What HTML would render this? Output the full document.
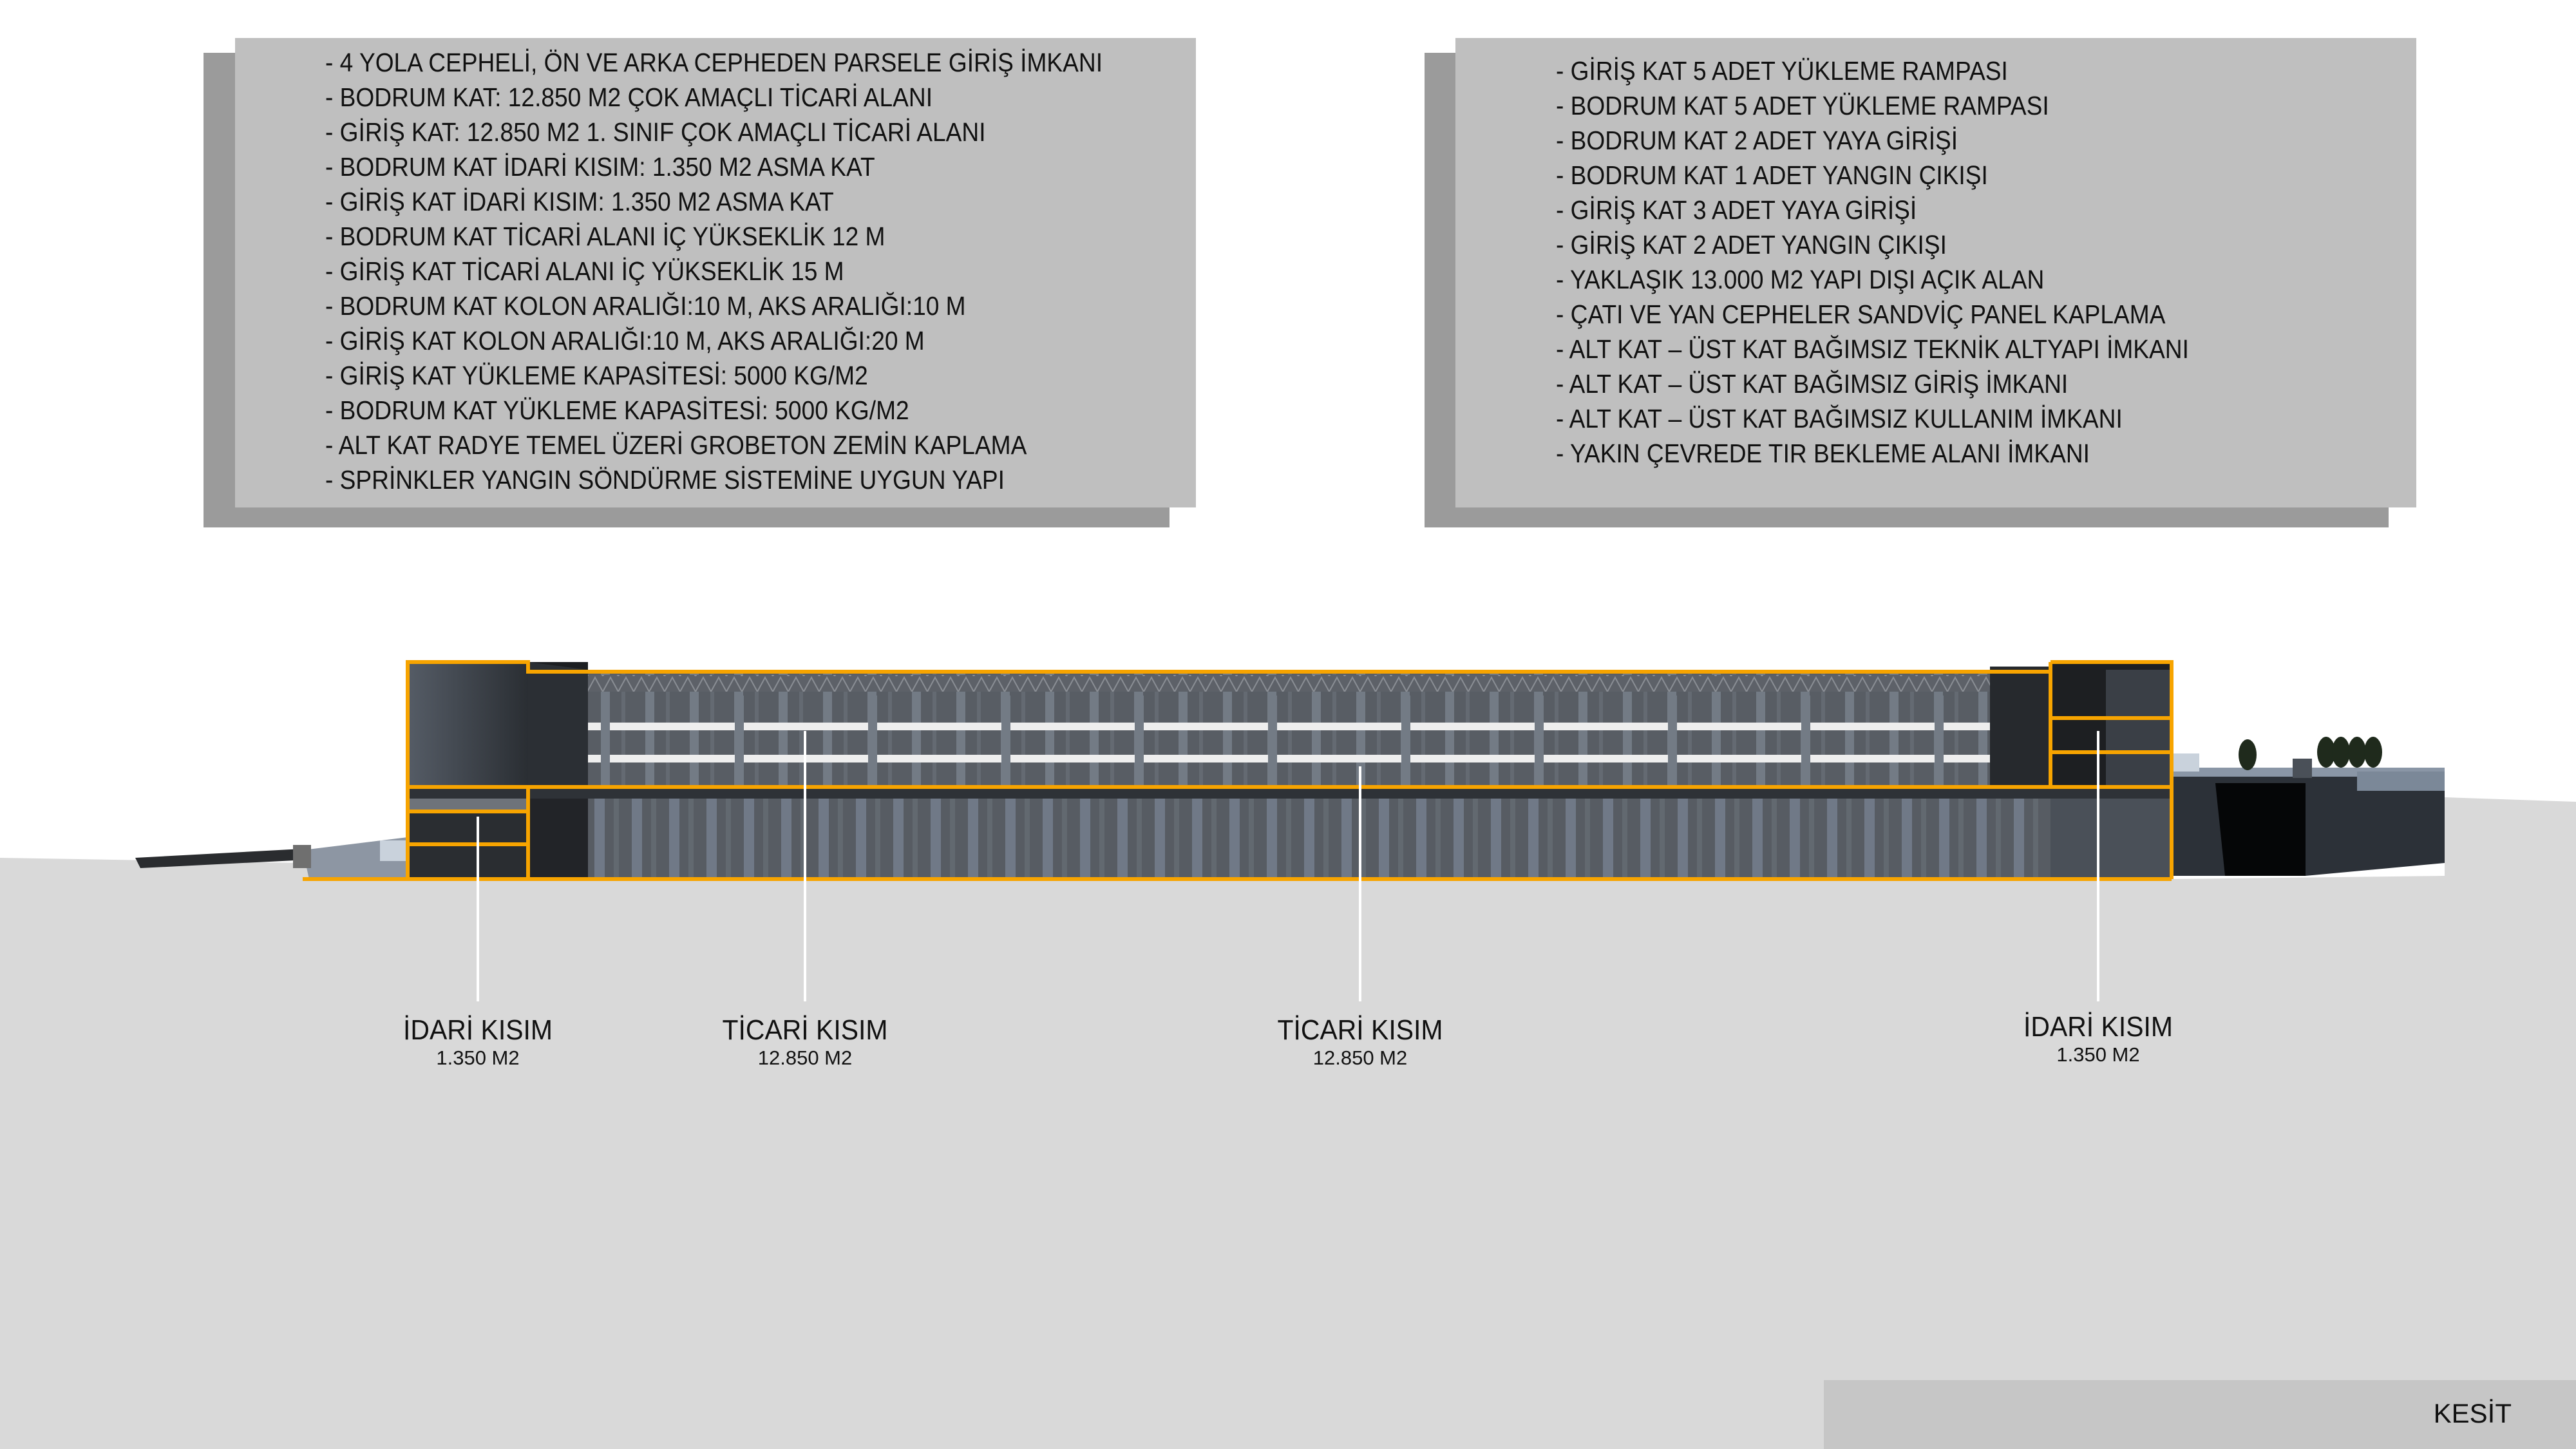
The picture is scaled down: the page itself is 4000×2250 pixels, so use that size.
<!DOCTYPE html>
<html><head><meta charset="utf-8"><style>
html,body{margin:0;padding:0}
body{width:4000px;height:2250px;position:relative;overflow:hidden;background:#d9d9d9;font-family:"Liberation Sans",sans-serif}
.sh{position:absolute;background:#9b9b9b}
.bx{position:absolute;background:#bfbfbf}
.tx{position:absolute;transform:scaleX(0.905);transform-origin:0 0;font-size:41px;line-height:54px;color:#111;white-space:nowrap}
.lb{position:absolute;text-align:center;color:#111;white-space:nowrap}
.lb .a{font-size:44px;line-height:50px;transform:scaleX(0.93);display:block}
.lb .b{font-size:31px;line-height:36px;transform:scaleX(1.0);display:block}
</style></head><body>
<svg width="4000" height="2250" style="position:absolute;left:0;top:0">
<defs>
<pattern id="colU" x="913" y="0" width="69" height="10" patternUnits="userSpaceOnUse"><rect width="69" height="10" fill="#585d64"/><rect x="20" width="14" height="10" fill="#737b85"/><rect x="52" width="6" height="10" fill="#646a72"/></pattern>
<pattern id="colL" x="913" y="0" width="58" height="10" patternUnits="userSpaceOnUse"><rect width="58" height="10" fill="#575c63"/><rect x="10" width="16" height="10" fill="#707987"/><rect x="40" width="8" height="10" fill="#626970"/></pattern>
<pattern id="trs" x="0" y="1050" width="24" height="24" patternUnits="userSpaceOnUse"><rect width="24" height="24" fill="#5d6168"/><path d="M0 24 L12 2 L24 24" stroke="#8a8e94" stroke-width="2" fill="none"/></pattern>
<linearGradient id="twr" x1="0" x2="1"><stop offset="0" stop-color="#555c66"/><stop offset="1" stop-color="#2a2e33"/></linearGradient>
</defs>
<polygon points="0,0 4000,0 4000,1245 3796,1238 3796,1360 3372,1365 633,1365 470,1340 0,1332" fill="#ffffff"/>
<polygon points="210,1332 470,1318 478,1335 218,1348" fill="#2a2c2f"/>
<polygon points="470,1320 633,1300 633,1365 480,1365" fill="#8d96a3"/>
<rect x="455" y="1312" width="28" height="36" fill="#6f6f6f"/>
<rect x="590" y="1305" width="43" height="32" fill="#c9d2dc"/>
<rect x="633" y="1043" width="2739" height="179" fill="url(#colU)"/>
<rect x="633" y="1048" width="2739" height="26" fill="url(#trs)"/>
<g fill="#eeeeee">
<rect x="913" y="1122" width="2177" height="12"/>
<rect x="913" y="1172" width="2177" height="12"/>
</g>
<g fill="#737b85">
<rect x="933" y="1080" width="14" height="142"/><rect x="1141" y="1080" width="14" height="142"/><rect x="1348" y="1080" width="14" height="142"/><rect x="1555" y="1080" width="14" height="142"/><rect x="1762" y="1080" width="14" height="142"/><rect x="1969" y="1080" width="14" height="142"/><rect x="2176" y="1080" width="14" height="142"/><rect x="2383" y="1080" width="14" height="142"/><rect x="2590" y="1080" width="14" height="142"/><rect x="2797" y="1080" width="14" height="142"/><rect x="3004" y="1080" width="14" height="142"/>
</g>
<rect x="633" y="1028" width="187" height="194" fill="url(#twr)"/>
<rect x="820" y="1028" width="93" height="194" fill="#1c1e21"/>
<polygon points="820,1028 913,1040 913,1222 820,1222" fill="#2b2f34"/>
<rect x="3090" y="1035" width="94" height="187" fill="#26292d"/>
<rect x="3184" y="1028" width="188" height="194" fill="#1d1f22"/>
<rect x="3270" y="1040" width="102" height="182" fill="#3a3f46"/>
<rect x="633" y="1222" width="2739" height="143" fill="url(#colL)"/>
<rect x="633" y="1224" width="2739" height="16" fill="#2e3237"/>
<rect x="633" y="1240" width="187" height="125" fill="#2a2d31"/>
<rect x="633" y="1240" width="187" height="22" fill="#6e737a"/>
<rect x="820" y="1240" width="93" height="125" fill="#222428"/>
<rect x="3184" y="1240" width="188" height="125" fill="#4a5058"/>
<polygon points="3372,1199 3796,1205 3796,1340 3580,1360 3372,1360" fill="#2c3138"/>
<polygon points="3440,1216 3580,1216 3580,1360 3455,1360" fill="#050607"/>
<rect x="3372" y="1192" width="424" height="14" fill="#8a96a6"/>
<rect x="3560" y="1178" width="30" height="30" fill="#4a5058"/>
<rect x="3375" y="1170" width="40" height="28" fill="#c9d2dc"/>
<rect x="3660" y="1198" width="136" height="30" fill="#7b8898"/>
<g fill="#1f2a1c">
<ellipse cx="3490" cy="1172" rx="14" ry="24"/><ellipse cx="3612" cy="1168" rx="14" ry="24"/><ellipse cx="3635" cy="1168" rx="14" ry="24"/><ellipse cx="3660" cy="1168" rx="14" ry="24"/><ellipse cx="3685" cy="1168" rx="14" ry="24"/>
</g>
<g stroke="#f7a400" stroke-width="6" fill="none">
<polyline points="633,1365 633,1028 820,1028 820,1043 3184,1043"/>
<polyline points="3184,1028 3372,1028 3372,1365"/>
<line x1="3184" y1="1028" x2="3184" y2="1222"/>
<line x1="470" y1="1365" x2="3372" y2="1365"/>
<line x1="633" y1="1222" x2="3372" y2="1222"/>
<line x1="633" y1="1260" x2="820" y2="1260"/>
<line x1="633" y1="1311" x2="820" y2="1311"/>
<line x1="820" y1="1222" x2="820" y2="1365"/>
<line x1="3184" y1="1115" x2="3372" y2="1115"/>
<line x1="3184" y1="1168" x2="3372" y2="1168"/>
</g>
<g stroke="#ffffff" stroke-width="4">
<line x1="742" y1="1268" x2="742" y2="1555"/>
<line x1="1250" y1="1135" x2="1250" y2="1555"/>
<line x1="2112" y1="1190" x2="2112" y2="1555"/>
<line x1="3258" y1="1135" x2="3258" y2="1555"/>
</g>
</svg>

<div class="sh" style="left:316px;top:82px;width:1500px;height:737px"></div>
<div class="bx" style="left:365px;top:59px;width:1492px;height:729px"></div>
<div class="tx" style="left:505px;top:70px">- 4 YOLA CEPHELİ, ÖN VE ARKA CEPHEDEN PARSELE GİRİŞ İMKANI<br>- BODRUM KAT: 12.850 M2 ÇOK AMAÇLI TİCARİ ALANI<br>- GİRİŞ KAT: 12.850 M2 1. SINIF ÇOK AMAÇLI TİCARİ ALANI<br>- BODRUM KAT İDARİ KISIM: 1.350 M2 ASMA KAT<br>- GİRİŞ KAT İDARİ KISIM: 1.350 M2 ASMA KAT<br>- BODRUM KAT TİCARİ ALANI İÇ YÜKSEKLİK 12 M<br>- GİRİŞ KAT TİCARİ ALANI İÇ YÜKSEKLİK 15 M<br>- BODRUM KAT KOLON ARALIĞI:10 M, AKS ARALIĞI:10 M<br>- GİRİŞ KAT KOLON ARALIĞI:10 M, AKS ARALIĞI:20 M<br>- GİRİŞ KAT YÜKLEME KAPASİTESİ: 5000 KG/M2<br>- BODRUM KAT YÜKLEME KAPASİTESİ: 5000 KG/M2<br>- ALT KAT RADYE TEMEL ÜZERİ GROBETON ZEMİN KAPLAMA<br>- SPRİNKLER YANGIN SÖNDÜRME SİSTEMİNE UYGUN YAPI</div>

<div class="sh" style="left:2212px;top:82px;width:1497px;height:737px"></div>
<div class="bx" style="left:2260px;top:59px;width:1492px;height:729px"></div>
<div class="tx" style="left:2416px;top:83px">- GİRİŞ KAT 5 ADET YÜKLEME RAMPASI<br>- BODRUM KAT 5 ADET YÜKLEME RAMPASI<br>- BODRUM KAT 2 ADET YAYA GİRİŞİ<br>- BODRUM KAT 1 ADET YANGIN ÇIKIŞI<br>- GİRİŞ KAT 3 ADET YAYA GİRİŞİ<br>- GİRİŞ KAT 2 ADET YANGIN ÇIKIŞI<br>- YAKLAŞIK 13.000 M2 YAPI DIŞI AÇIK ALAN<br>- ÇATI VE YAN CEPHELER SANDVİÇ PANEL KAPLAMA<br>- ALT KAT – ÜST KAT BAĞIMSIZ TEKNİK ALTYAPI İMKANI<br>- ALT KAT – ÜST KAT BAĞIMSIZ GİRİŞ İMKANI<br>- ALT KAT – ÜST KAT BAĞIMSIZ KULLANIM İMKANI<br>- YAKIN ÇEVREDE TIR BEKLEME ALANI İMKANI</div>

<div class="lb" style="left:542px;top:1575px;width:400px"><span class="a">İDARİ KISIM</span><span class="b">1.350 M2</span></div>
<div class="lb" style="left:1050px;top:1575px;width:400px"><span class="a">TİCARİ KISIM</span><span class="b">12.850 M2</span></div>
<div class="lb" style="left:1912px;top:1575px;width:400px"><span class="a">TİCARİ KISIM</span><span class="b">12.850 M2</span></div>
<div class="lb" style="left:3058px;top:1570px;width:400px"><span class="a">İDARİ KISIM</span><span class="b">1.350 M2</span></div>

<div style="position:absolute;left:2832px;top:2143px;width:1168px;height:107px;background:#c6c6c6"></div>
<div style="position:absolute;left:3700px;top:2170px;width:200px;text-align:right;font-size:42px;line-height:50px;color:#111">KESİT</div>
</body></html>
